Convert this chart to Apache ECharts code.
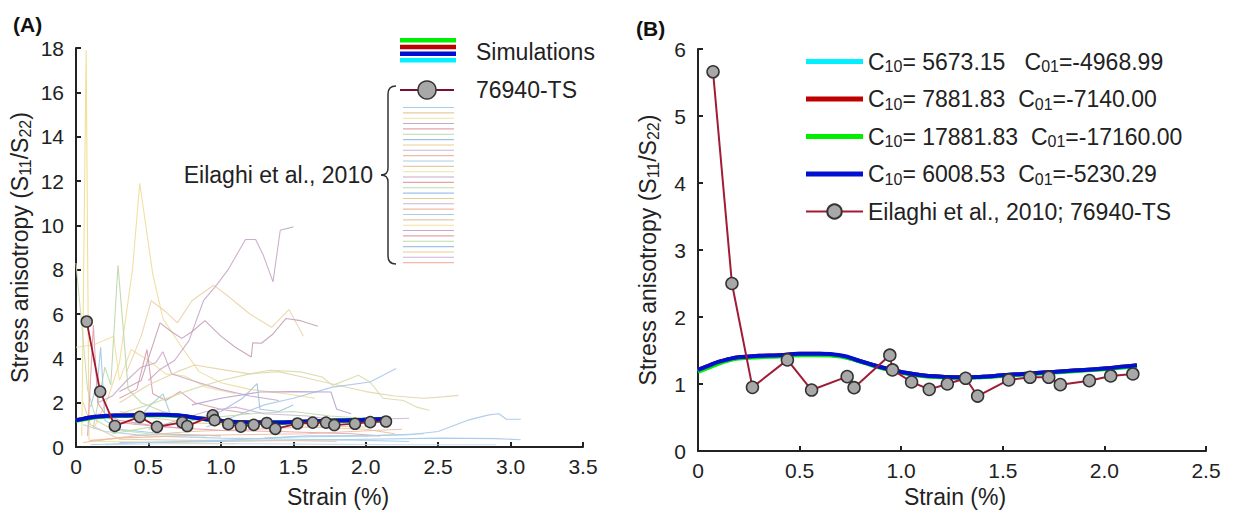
<!DOCTYPE html>
<html>
<head>
<meta charset="utf-8">
<script src="https://cdn.jsdelivr.net/npm/echarts@6/dist/echarts.min.js"></script>
<style>
  html, body { margin: 0; padding: 0; background: #fff; }
  #chart { width: 1238px; height: 514px; }
</style>
</head>
<body>
<div id="chart"></div>
<script>
// 76940-TS measured points (Eilaghi et al., 2010)
const tsStrain = [0.074, 0.167, 0.268, 0.44, 0.559, 0.734, 0.768, 0.944, 0.957, 1.051, 1.138,
  1.227, 1.317, 1.376, 1.529, 1.634, 1.726, 1.783, 1.926, 2.031, 2.14];
const tsRatio = [5.66, 2.50, 0.95, 1.36, 0.91, 1.11, 0.945, 1.43, 1.21, 1.03, 0.92,
  1.0, 1.085, 0.82, 1.06, 1.10, 1.10, 0.99, 1.05, 1.12, 1.15];

// simulations (4 parameter sets, nearly on top of each other)
const simStrain = [0, 0.05, 0.1, 0.15, 0.2, 0.3, 0.4, 0.5, 0.6, 0.7, 0.8, 0.9, 1.0,
  1.1, 1.2, 1.3, 1.4, 1.5, 1.6, 1.7, 1.8, 1.9, 2.0, 2.1, 2.16];
const simCyan = [1.20, 1.26, 1.32, 1.36, 1.39, 1.41, 1.42, 1.44, 1.44, 1.42, 1.34, 1.25, 1.18,
  1.13, 1.11, 1.10, 1.11, 1.13, 1.15, 1.17, 1.19, 1.21, 1.23, 1.25, 1.27];
const simRed = [1.21, 1.27, 1.33, 1.37, 1.40, 1.42, 1.43, 1.45, 1.45, 1.42, 1.34, 1.25, 1.18,
  1.13, 1.11, 1.10, 1.11, 1.13, 1.15, 1.17, 1.19, 1.21, 1.23, 1.26, 1.28];
const simGreen = [1.18, 1.24, 1.30, 1.35, 1.38, 1.40, 1.41, 1.43, 1.43, 1.41, 1.33, 1.24, 1.17,
  1.12, 1.10, 1.09, 1.10, 1.12, 1.14, 1.16, 1.18, 1.20, 1.22, 1.25, 1.27];
const simBlue = [1.21, 1.27, 1.33, 1.37, 1.40, 1.42, 1.43, 1.45, 1.45, 1.43, 1.34, 1.25, 1.18,
  1.13, 1.11, 1.10, 1.11, 1.13, 1.15, 1.17, 1.19, 1.21, 1.23, 1.26, 1.28];

const c10Values = ["5673.15", "7881.83", "17881.83", "6008.53"];
const c01Values = ["-4968.99", "-7140.00", "-17160.00", "-5230.29"];
const simColors = ["#00f0ff", "#c00000", "#00ee00", "#0010d0"];
const simData = [simCyan, simRed, simGreen, simBlue];

// other specimens from Eilaghi et al., 2010 (panel A background), [strain, ratio]
const eilaghiCurves = [
  [[0.04,0.5],[0.07,17.9],[0.09,0.3],[0.2,0.25],[0.6,0.2],[1.1,0.15]],
  [[0.12,0.8],[0.22,2.2],[0.3,3.8],[0.39,8.0],[0.44,11.9],[0.53,7.8],[0.6,5.8],[0.72,4.6],[0.85,3.4],[1.0,2.9],[1.2,2.6],[1.45,2.4],[1.65,2.2]],
  [[0,4.5],[0.12,4.6],[0.26,5.0],[0.3,3.0],[0.38,4.4],[0.5,3.9],[0.62,3.3],[0.75,3.2],[0.9,2.7],[1.1,2.4]],
  [[0.35,3.4],[0.45,5.0],[0.52,6.6],[0.62,6.1],[0.7,5.6],[0.8,6.6],[0.95,7.3],[1.05,6.8],[1.2,6.0],[1.35,5.4],[1.47,6.2],[1.57,5.0]],
  [[0.5,3.0],[0.58,3.5],[0.68,3.9],[0.78,4.8],[0.88,6.6],[0.97,7.3],[1.05,8.0],[1.17,9.36],[1.24,9.36],[1.29,8.7],[1.36,7.45],[1.41,9.78],[1.5,9.93]],
  [[0.3,2.5],[0.45,3.0],[0.58,5.6],[0.66,5.2],[0.73,4.9],[0.8,5.2],[0.89,5.7],[1.0,5.0],[1.1,4.5],[1.21,4.06],[1.22,4.7],[1.28,4.68],[1.36,5.1],[1.45,5.8],[1.55,5.7],[1.67,5.45]],
  [[0.12,0.9],[0.2,3.6],[0.24,2.8],[0.29,8.2],[0.36,2.6],[0.45,2.0],[0.6,1.6],[0.8,1.3],[1.0,1.1]],
  [[0,8.3],[0.04,5.5],[0.08,2.6],[0.14,1.2],[0.25,0.8],[0.5,0.6],[0.9,0.5]],
  [[0.15,2.0],[0.25,2.3],[0.35,3.0],[0.45,3.6],[0.55,3.8],[0.6,4.3],[0.66,3.3],[0.8,3.0],[1.0,2.6],[1.2,2.3],[1.4,2.1]],
  [[0.3,2.2],[0.42,2.6],[0.49,4.4],[0.53,2.4],[0.62,2.1],[0.72,2.5],[0.82,2.0],[1.0,1.7],[1.2,1.5]],
  [[0.3,2.0],[0.5,2.8],[0.7,3.4],[0.82,3.7],[1.0,3.5],[1.2,3.3],[1.4,3.4],[1.6,3.1],[1.8,2.8],[2.0,2.5],[2.2,2.3],[2.4,2.2],[2.53,2.26],[2.64,2.33]],
  [[0.25,1.4],[0.5,1.9],[0.8,2.6],[1.0,3.0],[1.2,3.3],[1.34,3.46],[1.55,3.39],[1.7,3.16],[1.77,2.78],[1.95,3.24],[2.03,2.93],[2.12,2.2],[2.26,2.1],[2.35,1.8],[2.44,1.66]],
  [[0.9,0.9],[1.1,1.4],[1.3,1.9],[1.5,2.2],[1.77,2.7],[2.03,2.93],[2.21,3.54]],
  [[1.3,0.4],[1.6,0.5],[2.0,0.5],[2.3,0.55],[2.5,0.7],[2.7,1.2],[2.85,1.45],[2.92,1.5],[2.97,1.25],[3.07,1.25]],
  [[0.3,0.2],[1.0,0.25],[1.5,0.3],[2.0,0.35],[2.51,0.4],[2.9,0.38],[3.07,0.33]],
  [[0.1,1.8],[0.15,3.0],[0.17,4.5],[0.2,1.2],[0.3,0.8],[0.6,0.6],[1.0,0.5]],
  [[0.08,0.5],[0.12,5.5],[0.15,2.0],[0.2,1.5],[0.3,1.2],[0.5,1.0],[0.8,0.8]],
  [[0.4,1.0],[0.5,1.8],[0.6,2.4],[0.65,1.5],[0.8,1.3],[1.0,1.1],[1.2,1.0]],
  [[0.8,1.2],[1.0,1.6],[1.15,2.2],[1.25,2.86],[1.27,1.7],[1.4,1.6],[1.5,1.9]],
  [[0.8,1.9],[1.0,2.2],[1.27,2.48],[1.5,2.5],[1.76,2.48],[1.8,1.7],[1.9,1.5]],
  [[0.05,0.2],[0.4,0.5],[0.8,0.7],[1.2,0.8],[1.6,0.9],[2.0,0.8],[2.2,0.6]],
  [[0.05,1.0],[0.2,0.7],[0.5,0.5],[1.0,0.4],[1.5,0.35],[2.0,0.3],[2.3,0.25]],
  [[0.1,0.3],[0.3,0.4],[0.7,0.5],[1.1,0.55],[1.6,0.6],[1.9,0.7],[2.25,0.8]],
  [[0.2,0.1],[0.6,0.15],[1.2,0.15],[1.8,0.12],[2.3,0.1],[2.9,0.1]],
  [[0.15,1.5],[0.3,1.1],[0.6,0.9],[1.0,0.75],[1.4,0.7],[1.9,0.6],[2.1,0.5]],
  [[0.25,0.6],[0.6,1.0],[0.9,1.3],[1.2,1.5],[1.5,1.6],[1.75,1.4],[2.0,1.3]],
  [[0.05,2.0],[0.1,1.0],[0.3,0.35],[0.8,0.3],[1.4,0.3],[1.8,0.25]],
  [[0.5,0.8],[0.9,1.6],[1.1,1.8],[1.3,1.5],[1.6,1.4],[1.8,1.2],[2.3,1.3]],
  [[0.1,0.1],[0.5,0.2],[1.0,0.3],[1.5,0.45],[2.0,0.5],[2.4,0.6]],
  [[0.3,1.6],[0.55,1.3],[0.8,1.1],[1.1,1.0],[1.4,1.1],[1.7,0.95],[2.0,0.9]]
];
const eilaghiCurveColors = [
  "#efdc8a", "#f0dc98", "#efe0a0", "#ebd3a8", "#c8a6c8", "#c4a0b8", "#bcd6a8", "#c8dcb0",
  "#c8a8c8", "#d89aa8", "#e6d4a8", "#d8dcaa", "#a8c8e8", "#a8c8e6", "#a6c6e8", "#9ec6e6",
  "#e0a0b0", "#9fd0d0", "#a0c0e0", "#b8a0cc", "#e8c0a0", "#a8cfe8", "#f0b9a0", "#c8dcf0",
  "#e6a3ab", "#b9dba4", "#e9c9a5", "#cdb3d8", "#a8cfe8", "#e7cf8f"
];
const eilaghiColors = ["#a8cfe8", "#e9c9a5", "#f1e3a0", "#c8a9cc", "#e6a3ab", "#b9dba4",
  "#9ec3e6", "#e7cf8f", "#cdb3d8", "#f0b9a0"];

const FONT = "Liberation Sans, Arial, sans-serif";
const axisColor = "#222";

var myChart = echarts.init(document.getElementById("chart"), null, { renderer: "svg" });

function zipXY(xs, ys) {
  return xs.map((x, i) => [x, ys[i]]);
}

let series = [];
// panel A background curves
eilaghiCurves.forEach((c, i) => {
  series.push({
    type: "line", xAxisIndex: 0, yAxisIndex: 0, silent: true,
    symbol: "none", data: c,
    lineStyle: { width: 1.1, color: eilaghiCurveColors[i], opacity: 0.9 },
    z: 1
  });
});
// simulations in A
simData.forEach((d, i) => {
  series.push({
    type: "line", xAxisIndex: 0, yAxisIndex: 0, symbol: "none", smooth: true,
    data: zipXY(simStrain, d),
    lineStyle: { width: 4, color: simColors[i] }, z: 3
  });
});
series.push({
  name: "76940-TS", type: "line", xAxisIndex: 0, yAxisIndex: 0,
  data: zipXY(tsStrain, tsRatio), symbol: "circle", symbolSize: 11,
  lineStyle: { width: 1.8, color: "#a3182e" },
  itemStyle: { color: "#a8a8a8", borderColor: "#333", borderWidth: 1.5 }, z: 5
});
// panel B
const simNames = c10Values.map((c, i) => "C10= " + c + (i === 0 ? "   " : "  ") + "C01=" + c01Values[i]);
simData.forEach((d, i) => {
  series.push({
    name: simNames[i], type: "line", xAxisIndex: 1, yAxisIndex: 1, symbol: "none", smooth: true,
    data: zipXY(simStrain, d),
    lineStyle: { width: 4, color: simColors[i] }, itemStyle: { color: simColors[i] }, z: 3
  });
});
series.push({
  name: "Eilaghi et al., 2010; 76940-TS", type: "line", xAxisIndex: 1, yAxisIndex: 1,
  data: zipXY(tsStrain, tsRatio), symbol: "circle", symbolSize: 12,
  lineStyle: { width: 2, color: "#a01c36" },
  itemStyle: { color: "#a8a8a8", borderColor: "#333", borderWidth: 1.5 }, z: 5
});

function subRich(fs, sub, drop) {
  return {
    n: { fontSize: fs, fontFamily: FONT, color: axisColor },
    s: { fontSize: sub, fontFamily: FONT, color: axisColor, padding: [drop, 0, 0, 0] }
  };
}

function mkX(idx, max, gap, shift) {
  return {
    gridIndex: idx, type: "value", min: 0, max: max, interval: 0.5,
    name: "Strain (%)", nameLocation: "middle", nameGap: gap,
    nameTextStyle: { fontSize: 23, fontFamily: FONT, color: axisColor, padding: [0, 0, 0, shift] },
    axisLine: { lineStyle: { color: axisColor, width: 2 } },
    axisTick: { inside: true, length: 5, lineStyle: { color: axisColor, width: 2 } },
    axisLabel: {
      fontSize: 21, fontFamily: FONT, color: axisColor, margin: 9,
      formatter: v => (v === 0 ? "0" : v.toFixed(1))
    },
    splitLine: { show: false }
  };
}
function mkY(idx, max, interval, gap) {
  return {
    gridIndex: idx, type: "value", min: 0, max: max, interval: interval,
    name: "{n|Stress anisotropy (S}{s|11}{n|/S}{s|22}{n|)}", nameLocation: "middle", nameGap: gap,
    nameTextStyle: { rich: subRich(23, 16, 10) },
    axisLine: { lineStyle: { color: axisColor, width: 2 } },
    axisTick: { inside: true, length: 5, lineStyle: { color: axisColor, width: 2 } },
    axisLabel: { fontSize: 21, fontFamily: FONT, color: axisColor, margin: 12 },
    splitLine: { show: false }
  };
}

// panel A legend (drawn by hand: grouped bars, bracket)
let graphics = [];
const barCols = ["#00ee00", "#c00000", "#0010d0", "#00f0ff"];
barCols.forEach((c, i) => {
  graphics.push({ type: "rect", shape: { x: 400, y: 38 + i * 6.7, width: 56, height: 4.5 }, style: { fill: c } });
});
graphics.push({ type: "text", x: 476, y: 52, style: { text: "Simulations", font: "23px " + FONT, fill: axisColor, verticalAlign: "middle" } });
graphics.push({ type: "line", shape: { x1: 400, y1: 90, x2: 454, y2: 90 }, style: { stroke: "#7a1030", lineWidth: 2 } });
graphics.push({ type: "circle", shape: { cx: 427, cy: 90, r: 9 }, style: { fill: "#a8a8a8", stroke: "#333", lineWidth: 1.5 } });
graphics.push({ type: "text", x: 476, y: 90, style: { text: "76940-TS", font: "23px " + FONT, fill: axisColor, verticalAlign: "middle" } });
for (let i = 0; i < 30; i++) {
  const y = 107.5 + i * 5.35;
  graphics.push({ type: "line", shape: { x1: 403, y1: y, x2: 454, y2: y },
    style: { stroke: eilaghiColors[i % eilaghiColors.length], lineWidth: 1.1 } });
}
// curly bracket
const braceStyle = { fill: "none", stroke: "#333", lineWidth: 1.5 };
graphics.push({ type: "bezierCurve", shape: { x1: 396, y1: 86, cpx1: 388, cpy1: 86, x2: 388, y2: 94 }, style: braceStyle });
graphics.push({ type: "line", shape: { x1: 388, y1: 94, x2: 388, y2: 168 }, style: braceStyle });
graphics.push({ type: "bezierCurve", shape: { x1: 388, y1: 168, cpx1: 388, cpy1: 175, x2: 381, y2: 175 }, style: braceStyle });
graphics.push({ type: "bezierCurve", shape: { x1: 381, y1: 175, cpx1: 388, cpy1: 175, x2: 388, y2: 182 }, style: braceStyle });
graphics.push({ type: "line", shape: { x1: 388, y1: 182, x2: 388, y2: 256 }, style: braceStyle });
graphics.push({ type: "bezierCurve", shape: { x1: 388, y1: 256, cpx1: 388, cpy1: 264, x2: 396, y2: 264 }, style: braceStyle });
graphics.push({ type: "text", x: 373, y: 175, style: { text: "Eilaghi et al., 2010", font: "23px " + FONT, fill: axisColor, align: "right", verticalAlign: "middle" } });
graphics.push({ type: "text", x: 13, y: 24, style: { text: "(A)", font: "bold 21px " + FONT, fill: "#111", verticalAlign: "middle" } });
graphics.push({ type: "text", x: 636, y: 28, style: { text: "(B)", font: "bold 21px " + FONT, fill: "#111", verticalAlign: "middle" } });

const simIcon = "path://M0,0 L57,0 L57,5 L0,5 Z";

let option = {
  animation: false,
  backgroundColor: "#fff",
  grid: [
    { left: 76, top: 48, width: 507, height: 399 },
    { left: 698, top: 49, width: 508, height: 402 }
  ],
  xAxis: [mkX(0, 3.5, 38, 17), mkX(1, 2.5, 34, 6)],
  yAxis: [mkY(0, 18, 2, 43), mkY(1, 6, 1, 37)],
  legend: {
    orient: "vertical", left: 800, top: 45, itemGap: 13,
    itemWidth: 57, itemHeight: 18,
    data: simNames.map(n => ({ name: n, icon: simIcon })).concat(["Eilaghi et al., 2010; 76940-TS"]),
    textStyle: { fontSize: 23, fontFamily: FONT, color: axisColor, rich: subRich(23, 16, 10) },
    formatter: function (name) {
      const i = simNames.indexOf(name);
      if (i < 0) return "{n|" + name + "}";
      return "{n|C}{s|10}{n|= " + c10Values[i] + (i === 0 ? "   " : "  ") + "C}{s|01}{n|=" + c01Values[i] + "}";
    }
  },
  graphic: graphics,
  series: series
};

myChart.setOption(option);
window.addEventListener("resize", () => {
  if (myChart) myChart.resize();
});
</script>
</body>
</html>
